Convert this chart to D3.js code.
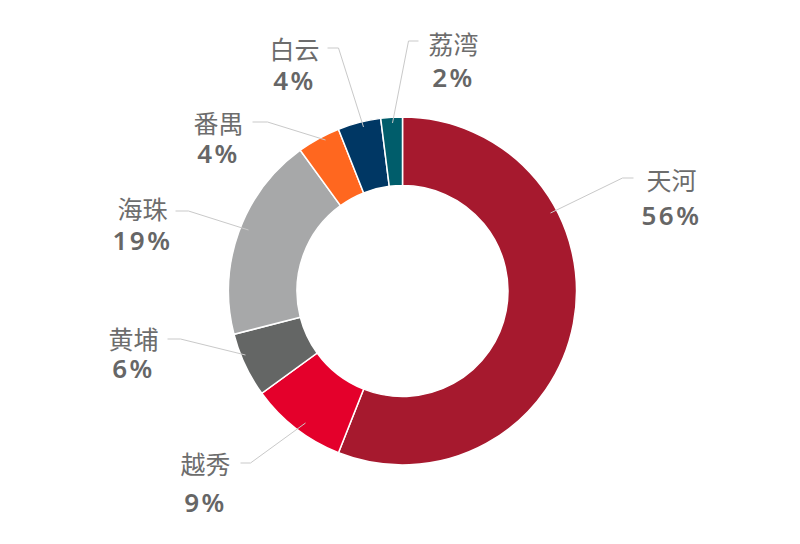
<!DOCTYPE html>
<html><head><meta charset="utf-8">
<script src="https://cdn.jsdelivr.net/npm/d3@7/dist/d3.min.js"></script>
<style>
html,body{margin:0;padding:0;background:#fff;}
svg{display:block;}
</style></head>
<body>
<svg id="chart" width="800" height="544"></svg>
<script>
// ---- data ----
const categories = ["天河","越秀","黄埔","海珠","番禺","白云","荔湾"];
const values = [56, 9, 6, 19, 4, 4, 2];
const pctLabels = ["56%","9%","6%","19%","4%","4%","2%"];
const colors = ["#a6192e","#e4002b","#646665","#a7a8a9","#ff671f","#003764","#005d6b"];

// ---- layout (label placement, relative to chart centre) ----
// [startX, startY, elbowX, elbowY, endX, endY, textX, nameY, pctY]
const labelLayout = [
  [148, -78, 220, -113, 231, -113, 269, -112, -76],
  [-97, 132, -152, 172, -162, 172, -197, 172, 211],
  [-157, 64, -222, 48, -235, 48, -269, 47, 77],
  [-154, -61, -214, -80, -227, -80, -260, -83, -51],
  [-77, -151, -135, -169, -150, -169, -184, -169, -138],
  [-39, -164, -64, -243, -75, -243, -108, -243, -211],
  [-10, -168, 6, -250, 16, -250, 51, -248, -214]
];

const W = 800, H = 544;
const cx = 402.5, cy = 291;
const rOuter = 174, rInner = 105.5;

const svg = d3.select("#chart");
const g = svg.append("g").attr("transform", `translate(${cx},${cy})`);

const pie = d3.pie().sort(null).value(d => d.v);
const arcs = pie(categories.map((c, i) => ({c, v: values[i], i})));
const arc = d3.arc().innerRadius(rInner).outerRadius(rOuter);

g.selectAll("path.slice").data(arcs).join("path")
  .attr("class", "slice")
  .attr("d", arc)
  .attr("fill", d => colors[d.data.i])
  .attr("stroke", "#fff")
  .attr("stroke-width", 1.5);

// leader lines
g.selectAll("polyline.leader").data(arcs).join("polyline")
  .attr("class", "leader")
  .attr("points", d => {
    const L = labelLayout[d.data.i];
    return [[L[0], L[1]], [L[2], L[3]], [L[4], L[5]]].map(p => p.join(",")).join(" ");
  })
  .attr("fill", "none")
  .attr("stroke", "#c9c9c9")
  .attr("stroke-width", 1);

// names
g.selectAll("text.name").data(arcs).join("text")
  .attr("class", "name")
  .attr("x", d => labelLayout[d.data.i][6])
  .attr("y", d => labelLayout[d.data.i][7])
  .attr("text-anchor", "middle")
  .attr("dominant-baseline", "central")
  .attr("font-family", "'Noto Sans CJK SC', 'Noto Sans', sans-serif")
  .attr("font-size", 25)
  .attr("fill", "#6d6d6d")
  .text(d => d.data.c);

// percentages
g.selectAll("text.pct").data(arcs).join("text")
  .attr("class", "pct")
  .attr("x", d => labelLayout[d.data.i][6])
  .attr("y", d => labelLayout[d.data.i][8])
  .attr("text-anchor", "middle")
  .attr("dominant-baseline", "central")
  .attr("font-family", "'Noto Sans', 'Open Sans', sans-serif")
  .attr("font-weight", 600)
  .attr("font-size", 26)
  .attr("letter-spacing", 2.5)
  .attr("fill", "#666666")
  .text(d => pctLabels[d.data.i]);
</script>
</body></html>
